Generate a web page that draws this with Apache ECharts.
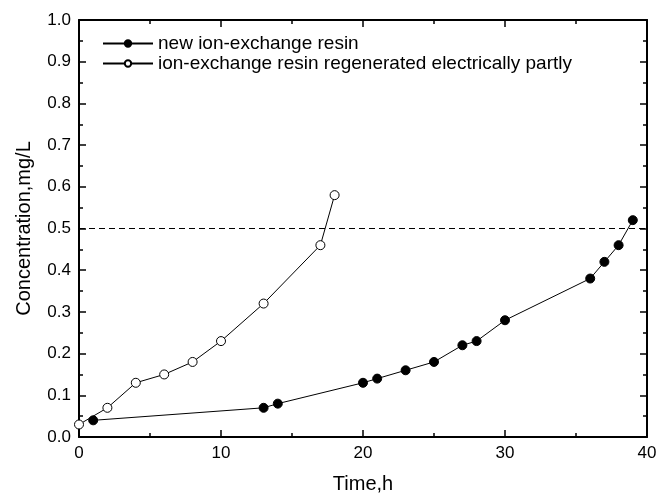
<!DOCTYPE html>
<html>
<head>
<meta charset="utf-8">
<script src="https://cdn.jsdelivr.net/npm/echarts@6/dist/echarts.min.js"></script>
<style>
html, body { margin: 0; padding: 0; background: #fff; }
#chart { width: 668px; height: 499px; }
</style>
</head>
<body>
<div id="chart"></div>
<script>
// series
var newTime = [1, 13, 14, 20, 21, 23, 25, 27, 28, 30, 36, 37, 38, 39]
var newConc = [0.04, 0.07, 0.08, 0.13, 0.14, 0.16, 0.18, 0.22, 0.23, 0.28, 0.38, 0.42, 0.46, 0.52]
var regTime = [0, 2, 4, 6, 8, 10, 13, 17, 18]
var regConc = [0.03, 0.07, 0.13, 0.15, 0.18, 0.23, 0.32, 0.46, 0.58]
var limit = 0.5

function pairs(xs, ys) {
    return xs.map(function (x, i) { return [x, ys[i]] })
}

var font = 'Liberation Sans, Arial, sans-serif'
var tickStyle = { show: true, inside: true, length: 7, lineStyle: { color: '#000', width: 1.5 } }
var minorStyle = { show: true, splitNumber: 2, length: 4, lineStyle: { color: '#000', width: 1.5 } }
var lineAx = { show: true, onZero: false, lineStyle: { color: '#000', width: 2 } }

var chart = echarts.init(document.getElementById('chart'))
chart.setOption({
    animation: false,
    grid: { left: 79, right: 21, top: 20, bottom: 62 },
    legend: {
        left: 97, top: 29, orient: 'vertical', itemGap: 1, itemWidth: 50, itemHeight: 8,
        textStyle: { fontFamily: font, fontSize: 19, color: '#000' },
        data: ['new ion-exchange resin', 'ion-exchange resin regenerated electrically partly']
    },
    xAxis: [{
        type: 'value', min: 0, max: 40, interval: 10,
        name: 'Time,h', nameLocation: 'middle', nameGap: 37,
        nameTextStyle: { fontFamily: font, fontSize: 20, color: '#000' },
        axisLine: lineAx, axisTick: tickStyle, minorTick: minorStyle,
        axisLabel: { fontFamily: font, fontSize: 17, color: '#000', margin: 8 },
        splitLine: { show: false }
    }, {
        type: 'value', position: 'top', min: 0, max: 40, interval: 10,
        axisLine: lineAx, axisTick: tickStyle, minorTick: minorStyle,
        axisLabel: { show: false }, splitLine: { show: false }
    }],
    yAxis: [{
        type: 'value', min: 0, max: 1, interval: 0.1,
        name: 'Concentration,mg/L', nameLocation: 'middle', nameGap: 45,
        nameTextStyle: { fontFamily: font, fontSize: 20, color: '#000' },
        axisLine: lineAx, axisTick: tickStyle, minorTick: minorStyle,
        axisLabel: { fontFamily: font, fontSize: 17, color: '#000', margin: 8,
            formatter: function (v) { return v.toFixed(1) } },
        splitLine: { show: false }
    }, {
        type: 'value', position: 'right', min: 0, max: 1, interval: 0.1,
        axisLine: lineAx, axisTick: tickStyle, minorTick: minorStyle,
        axisLabel: { show: false }, splitLine: { show: false }
    }],
    series: [{
        name: 'new ion-exchange resin', type: 'line',
        data: pairs(newTime, newConc),
        symbol: 'circle', symbolSize: 9,
        lineStyle: { color: '#000', width: 1 },
        itemStyle: { color: '#000', borderColor: '#000', borderWidth: 1 },
        markLine: {
            silent: true, symbol: 'none', label: { show: false },
            lineStyle: { color: '#000', type: [6, 4], width: 1 },
            data: [{ yAxis: limit }]
        }
    }, {
        name: 'ion-exchange resin regenerated electrically partly', type: 'line',
        data: pairs(regTime, regConc),
        symbol: 'circle', symbolSize: 9,
        lineStyle: { color: '#000', width: 1 },
        itemStyle: { color: '#fff', borderColor: '#000', borderWidth: 1 }
    }]
})
</script>
</body>
</html>
